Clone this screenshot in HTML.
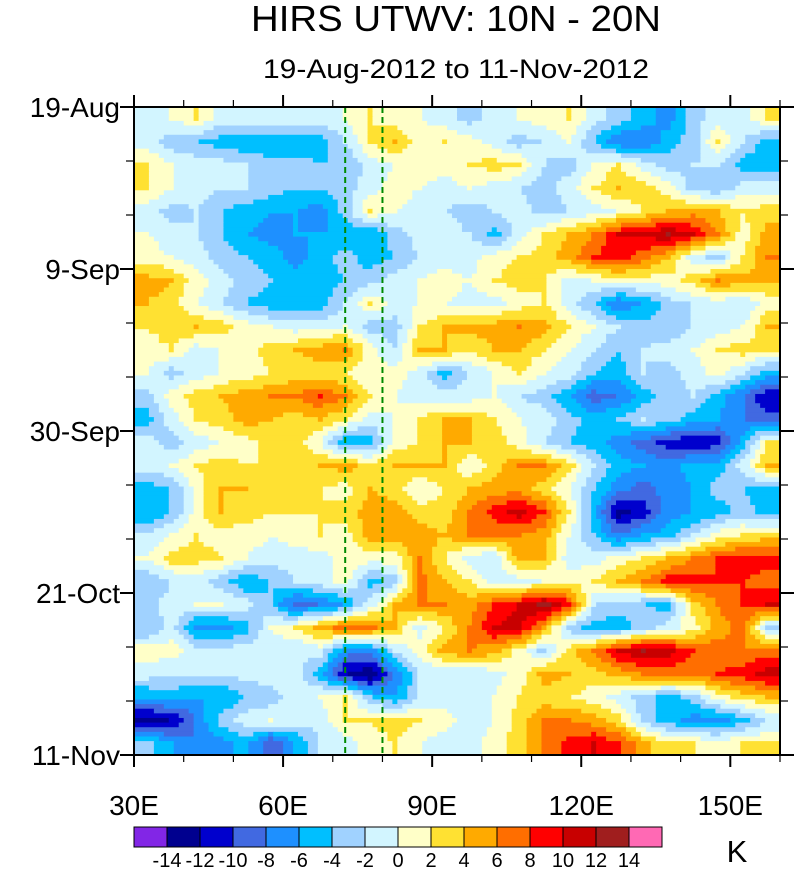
<!DOCTYPE html>
<html><head><meta charset="utf-8">
<style>
html,body{margin:0;padding:0;background:#fff;}
body{width:800px;height:869px;overflow:hidden;font-family:"Liberation Sans",sans-serif;}
svg text{font-family:"Liberation Sans",sans-serif;fill:#000;}
</style></head>
<body>
<svg id="chart" width="800" height="869" viewBox="0 0 800 869" xmlns="http://www.w3.org/2000/svg">
<text x="456" y="31" font-size="36" text-anchor="middle" textLength="410" lengthAdjust="spacingAndGlyphs">HIRS UTWV: 10N - 20N</text>
<text x="456" y="78" font-size="27" text-anchor="middle" textLength="386" lengthAdjust="spacingAndGlyphs">19-Aug-2012 to 11-Nov-2012</text>
<g id="field"></g>
<g id="guides"></g>
<g id="axes"></g>
<g id="cbar"></g>
<text x="737" y="862" font-size="31" text-anchor="middle">K</text>
</svg>
<script>
const lonStart = 30, lonEnd = 160, lonStep = 5;
const dayCount = 84, dayStep = 3;
const xTickLabels = ["30E","60E","90E","120E","150E"];
const xTickValues = [30,60,90,120,150];
const yTickLabels = ["19-Aug","9-Sep","30-Sep","21-Oct","11-Nov"];
const yTickDays = [0,21,42,63,84];
const guideLons = [72.5,80];
const levels = [-14,-12,-10,-8,-6,-4,-2,0,2,4,6,8,10,12,14];
const palette = ["#8226e6","#00008f","#0000cd","#4169e1","#1e90ff","#00bfff","#a0d2ff","#d2f5ff","#ffffc8","#ffe132","#ffaa00","#ff6e00","#ff0000","#c80000","#a01e1e","#ff69b4"];
const r0=[-1,0,2,-1,-1,-1,-1,-1,0,2,1,0,-1,-3,-1,0,1,2,-1,-3,-5,-7,-3,-1,-1,2];
const r1=[-1,-3,-4,-5,-6,-6,-6,-5,-2,2,4,1,2,1,-1,-3,-2,0,-4,-8,-8,-5,-3,2,-2,-5];
const r2=[2,0,-1,-1,-2,-3,-3,-4,-4,-1,0,1,1,2,3,2,-2,-3,0,2,-1,-3,-2,-2,-5,-5];
const r3=[2,0,-1,-2,-2,-3,-4,-4,-3,-1,1,0,-1,0,-1,-2,-3,-1,2,4,3,1,-3,-4,-1,-1];
const r4=[-1,-3,-2,-4,-5,-6,-6,-7,-3,2,0,-1,-2,-3,-2,-1,-3,-2,-1,0,2,4,5,4,2,3];
const r5=[0,-1,-2,-4,-6,-7,-6,-6,-6,-6,-3,-1,-1,-2,-5,-1,2,4,6,10,10,12,10,6,1,5];
const r6=[1,0,-1,-3,-4,-5,-7,-5,-3,-5,-4,-2,-1,-1,1,2,3,5,8,9,7,4,-1,-3,2,6];
const r7=[5,4,1,-1,-3,-4,-5,-5,-4,-3,-1,0,1,0,2,3,2,-1,0,1,1,1,3,6,5,4];
const r8=[4,3,0,-2,-4,-5,-6,-5,-2,2,-1,0,0,-1,-1,1,2,-1,-4,-8,-6,-3,-2,-1,-2,1];
const r9=[2,3,4,3,1,0,-1,-1,0,-3,-3,2,4,5,5,6,5,2,0,-2,-3,-4,-2,-1,0,4];
const r10=[1,2,-1,0,1,3,4,5,6,1,-2,4,4,2,4,4,2,0,-2,-4,-2,-1,0,2,3,2];
const r11=[0,-3,-1,0,1,2,3,3,2,0,1,-1,-5,-2,0,2,0,-1,-4,-5,-2,-3,-1,1,-2,-5];
const r12=[-3,1,3,4,5,6,6,8,6,2,0,-1,-1,-1,0,-2,-3,-6,-9,-8,-5,-3,-2,-5,-8,-12];
const r13=[-5,-1,2,3,5,4,3,4,2,-1,0,2,4,4,2,0,-1,-3,-5,-4,-2,-3,-5,-6,-8,-9];
const r14=[-1,-3,-1,0,1,3,3,0,-6,-5,1,2,4,4,3,1,-2,-4,-5,-7,-9,-11,-12,-11,-5,2];
const r15=[-1,0,2,3,2,2,3,4,5,3,4,4,4,0,3,6,6,3,-2,-5,-6,-7,-5,-5,-1,4];
const r16=[-5,-4,1,4,4,3,3,2,1,4,3,0,2,4,5,5,3,0,-4,-7,-9,-7,-6,-3,-4,-5];
const r17=[-6,-4,1,4,3,2,2,2,3,5,5,3,3,6,9,11,8,2,-5,-13,-11,-7,-6,-5,-3,-5];
const r18=[-2,0,2,1,1,0,1,2,1,5,5,5,4,6,6,6,5,0,-4,-8,-6,-5,-2,1,2,3];
const r19=[0,3,3,2,0,-1,-1,-1,1,1,1,6,2,-1,-2,5,4,-1,-1,1,2,4,6,8,9,9];
const r20=[-4,-2,-1,-3,-6,-4,-2,-1,1,-5,-3,7,4,2,-1,-1,0,1,2,4,6,9,9,8,8,7];
const r21=[-3,-1,0,0,-1,-4,-9,-8,-6,-1,4,6,6,5,8,10,13,9,-2,-3,-4,-5,3,6,8,10];
const r22=[-4,-1,-7,-7,-5,0,2,5,7,7,4,-1,2,6,10,11,5,-3,-5,-5,-3,-1,1,5,7,-3];
const r23=[1,1,-1,-1,-1,-1,-2,-1,-7,-7,-2,1,5,6,5,1,-3,3,6,10,12,11,8,7,6,7];
const r24=[-1,-2,-2,-2,-1,-1,-1,-5,-12,-14,-8,-2,-2,-2,-1,1,5,4,3,5,6,7,6,8,9,11];
const r25=[-6,-5,-6,-6,-4,-3,-1,0,2,-4,-6,-2,-1,-1,0,2,3,2,1,-1,-3,-5,-3,1,3,4];
const r26=[-13,-12,-8,-3,-1,0,-1,-1,2,2,3,2,1,-1,0,3,6,6,5,3,-3,-5,-7,-7,-5,-2];
const r27=[-3,-6,-8,-7,-5,-10,-6,-2,-1,1,2,0,-1,-1,1,3,6,9,10,8,5,2,2,1,2,2];
const anomalies=[r0,r1,r2,r3,r4,r5,r6,r7,r8,r9,r10,r11,r12,r13,r14,r15,r16,r17,r18,r19,r20,r21,r22,r23,r24,r25,r26,r27];

const NS="http://www.w3.org/2000/svg";
const PX0=134,PX1=780,PY0=107,PY1=755;
const xScale=lon=>PX0+(lon-lonStart)/(lonEnd-lonStart)*(PX1-PX0);
const yScale=day=>PY0+day/dayCount*(PY1-PY0);
function mk(tag,attrs,parent){const e=document.createElementNS(NS,tag);for(const k in attrs)e.setAttribute(k,attrs[k]);parent.appendChild(e);return e;}
function colorIndex(v){let i=0;while(i<levels.length&&v>=levels[i])i++;return i;}

const field=document.getElementById('field');
const nC=anomalies[0].length,nR=anomalies.length,SUB=5;
function sample(c,r){
  c=Math.max(0,Math.min(nC-1,c));r=Math.max(0,Math.min(nR-1,r));
  const c0=Math.floor(c),r0_=Math.floor(r),c1=Math.min(nC-1,c0+1),r1_=Math.min(nR-1,r0_+1);
  const fc=c-c0,fr=r-r0_;
  const a=anomalies[r0_][c0]*(1-fc)+anomalies[r0_][c1]*fc;
  const b=anomalies[r1_][c0]*(1-fc)+anomalies[r1_][c1]*fc;
  return a*(1-fr)+b*fr;
}
for(let rs=0;rs<nR*SUB;rs++){
  const rr=(rs+0.5)/SUB-0.5;
  const d0=rs/SUB*dayStep,d1=(rs+1)/SUB*dayStep;
  let runStart=0,runIdx=-1;
  for(let cs=0;cs<=nC*SUB;cs++){
    const idx=cs<nC*SUB?colorIndex(sample((cs+0.5)/SUB-0.5,rr)):-2;
    if(idx!==runIdx){
      if(runIdx>=0){
        const x0=xScale(lonStart+runStart/SUB*lonStep),x1=xScale(lonStart+cs/SUB*lonStep);
        const cell=mk('rect',{x:x0.toFixed(2),y:yScale(d0).toFixed(2),width:(x1-x0+0.6).toFixed(2),height:(yScale(d1)-yScale(d0)+0.6).toFixed(2),fill:palette[runIdx]},field);
        
        
      }
      runStart=cs;runIdx=idx;
    }
  }
}

const guides=document.getElementById('guides');
guideLons.forEach(l=>{
  const g=mk('line',{x1:xScale(l),x2:xScale(l),y1:PY0,y2:PY1,stroke:'#008a00','stroke-width':2,'stroke-dasharray':'6,4'},guides);
  
  
});

const axes=document.getElementById('axes');
const frame=mk('rect',{x:PX0,y:PY0,width:PX1-PX0,height:PY1-PY0,fill:'none',stroke:'#000','stroke-width':2},axes);


for(let lon=lonStart;lon<=lonEnd;lon+=10){
  const major=xTickValues.includes(lon),L=major?12:7,x=xScale(lon);
  const t1=mk('line',{x1:x,x2:x,y1:PY1,y2:PY1+L,stroke:'#000','stroke-width':major?2:1.2},axes);
  
  
  const t2=mk('line',{x1:x,x2:x,y1:PY0,y2:PY0-L,stroke:'#000','stroke-width':major?2:1.2},axes);
  
  
}
xTickValues.forEach((v,i)=>{
  const t=mk('text',{x:xScale(v),y:815,'font-size':28,'text-anchor':'middle'},axes);
  t.textContent=xTickLabels[i];
  
  
});
for(let d=0;d<=dayCount;d+=7){
  const major=yTickDays.includes(d),L=major?14:8,y=yScale(d);
  const t1=mk('line',{x1:PX0-L,x2:PX0,y1:y,y2:y,stroke:'#000','stroke-width':major?2:1.2},axes);
  
  
  const t2=mk('line',{x1:PX1,x2:PX1+L,y1:y,y2:y,stroke:'#000','stroke-width':major?2:1.2},axes);
  
  
}
yTickDays.forEach((d,i)=>{
  const t=mk('text',{x:120,y:yScale(d)+10,'font-size':28,'text-anchor':'end'},axes);
  t.textContent=yTickLabels[i];
  
  
});

const cb=document.getElementById('cbar');
const CB0=134,CB1=662,CBY=827,CBH=20,bw=(CB1-CB0)/palette.length;
palette.forEach((c,i)=>{
  const b=mk('rect',{x:CB0+i*bw,y:CBY,width:bw,height:CBH,fill:c,stroke:'#000','stroke-width':1},cb);
  
  
});
levels.forEach((l,i)=>{
  const t=mk('text',{x:CB0+(i+1)*bw,y:867,'font-size':20,'text-anchor':'middle'},cb);
  t.textContent=String(l);
  
  
});
</script>
</body></html>
